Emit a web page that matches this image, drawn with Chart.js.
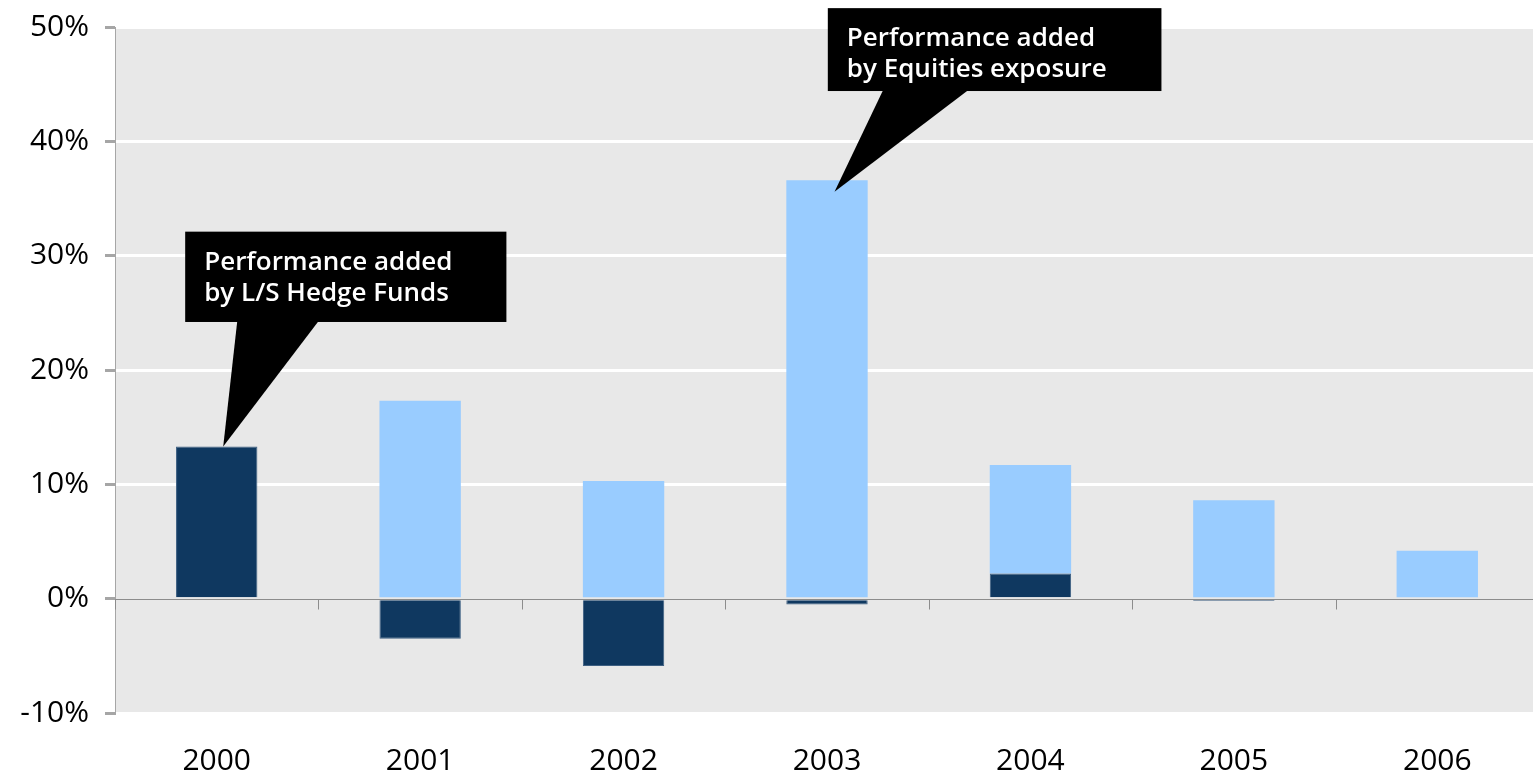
<!DOCTYPE html>
<html>
<head>
<meta charset="utf-8">
<script src="https://cdn.jsdelivr.net/npm/chart.js@4/dist/chart.umd.min.js"></script>
<style>
  html, body { margin: 0; padding: 0; background: #fff; overflow: hidden; }
  #wrap { width: 1539px; height: 778px; position: relative; }
</style>
</head>
<body>
<div id="wrap"><canvas id="c"></canvas></div>
<script>
const categories = ['2000', '2001', '2002', '2003', '2004', '2005', '2006'];
const hedgeFunds = [13.3, -3.5, -5.9, -0.5, 2.2, -0.2, 0];
const equities   = [0, 17.3, 10.3, 36.6, 9.5, 8.6, 4.2];
const yTicks = [-10, 0, 10, 20, 30, 40, 50];

// callouts: box and pointer in data units (category index, percent)
const callouts = [
  { lines: ['Performance added', 'by L/S Hedge Funds'],
    box: { x0: -0.155, x1: 1.424, y0: 32.1, y1: 24.2 },
    base: [0.101, 0.501], tip: { x: 0.032, y: 13.3 } },
  { lines: ['Performance added', 'by Equities exposure'],
    box: { x0: 3.004, x1: 4.644, y0: 51.65, y1: 44.4 },
    base: [3.276, 3.695], tip: { x: 3.037, y: 35.6 } }
];

const DARK = '#0f3860';
const LIGHT = '#99ccff';
const FONT = '"Open Sans", "DejaVu Sans", sans-serif';

const bgPlugin = {
  id: 'bg',
  beforeDraw(chart) {
    const { ctx, chartArea: a } = chart;
    ctx.save();
    ctx.fillStyle = '#e8e8e8';
    ctx.fillRect(a.left, a.top + 2, a.right - a.left, a.bottom - a.top - 3);
    ctx.restore();
  }
};

const xTickPlugin = {
  id: 'xticks',
  afterDatasetsDraw(chart) {
    const { ctx } = chart;
    const x = chart.scales.x, y = chart.scales.y;
    const y0 = Math.round(y.getPixelForValue(0)) + 0.5;
    ctx.save();
    ctx.strokeStyle = '#8c8c8c';
    ctx.lineWidth = 1;
    ctx.beginPath();
    for (let i = 0; i <= categories.length; i++) {
      const px = Math.round(x.getPixelForValue(i - 0.5)) + 0.5;
      ctx.moveTo(px, y0);
      ctx.lineTo(px, y0 + 10);
    }
    ctx.moveTo(x.left, y0);
    ctx.lineTo(x.right, y0);
    ctx.stroke();
    ctx.restore();
  }
};

const calloutPlugin = {
  id: 'callouts',
  afterDraw(chart) {
    const { ctx } = chart;
    const x = chart.scales.x, y = chart.scales.y;
    ctx.save();
    callouts.forEach(c => {
      const l = x.getPixelForValue(c.box.x0), r = x.getPixelForValue(c.box.x1);
      const t = y.getPixelForValue(c.box.y0), b = y.getPixelForValue(c.box.y1);
      ctx.fillStyle = '#000';
      ctx.fillRect(l, t, r - l, b - t);
      ctx.beginPath();
      ctx.moveTo(x.getPixelForValue(c.base[0]), b - 1);
      ctx.lineTo(x.getPixelForValue(c.base[1]), b - 1);
      ctx.lineTo(x.getPixelForValue(c.tip.x), y.getPixelForValue(c.tip.y));
      ctx.closePath();
      ctx.fill();
      ctx.fillStyle = '#fff';
      ctx.font = '600 26px ' + FONT;
      ctx.textBaseline = 'alphabetic';
      ctx.textAlign = 'left';
      c.lines.forEach((s, i) => {
        ctx.fillText(s, l + 19, t + 38 + i * 31);
      });
    });
    ctx.restore();
  }
};

new Chart(document.getElementById('c'), {
  type: 'bar',
  data: {
    labels: categories,
    datasets: [
      { label: 'L/S Hedge Funds', data: hedgeFunds, backgroundColor: DARK,
        borderColor: '#3d5f82', borderWidth: 1, borderSkipped: 'start',
        barPercentage: 0.4, categoryPercentage: 1.0, stack: 's' },
      { label: 'Equities exposure', data: equities, backgroundColor: LIGHT,
        borderWidth: 0,
        barPercentage: 0.4, categoryPercentage: 1.0, stack: 's' }
    ]
  },
  options: {
    responsive: true,
    maintainAspectRatio: false,
    animation: false,
    layout: { padding: { top: 27, right: 0, left: 0, bottom: 0 } },
    plugins: { legend: { display: false }, tooltip: { enabled: false } },
    scales: {
      x: {
        stacked: true,
        grid: { display: false },
        border: { display: false },
        ticks: { color: '#000', font: { family: FONT, size: 30 }, padding: 22 },
        afterFit(s) { s.height = 65; s.paddingLeft = 0; s.paddingRight = 0; }
      },
      y: {
        stacked: true,
        min: -10, max: 50,
        afterBuildTicks(s) { s.ticks = yTicks.map(v => ({ value: v })); },
        grid: {
          color: ctx => (ctx.tick && (ctx.tick.value === 0 || ctx.tick.value === 50 || ctx.tick.value === -10)) ? 'rgba(0,0,0,0)' : '#ffffff',
          lineWidth: 3,
          tickColor: '#a6a6a6',
          tickLength: 10,
          drawTicks: true
        },
        border: { display: true, color: '#a6a6a6', width: 1 },
        ticks: {
          color: '#000', font: { family: FONT, size: 30 }, padding: 16,
          callback: v => v + '%'
        },
        afterFit(s) { s.width = 115; s.paddingTop = 0; s.paddingBottom = 0; }
      }
    }
  },
  plugins: [bgPlugin, xTickPlugin, calloutPlugin]
});
</script>
</body>
</html>
